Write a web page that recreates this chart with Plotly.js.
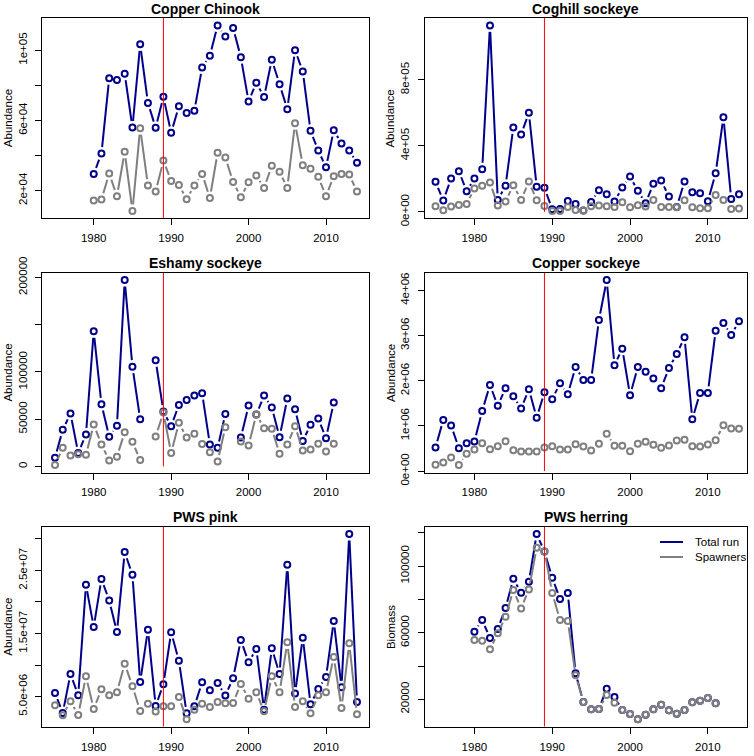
<!DOCTYPE html>
<html><head><meta charset="utf-8">
<script src="https://cdn.plot.ly/plotly-3.0.1.min.js"></script>
<style>html,body{margin:0;padding:0;background:#fff}</style>
</head><body><div id="chart" style="width:754px;height:756px"></div>
<script>
// ---------------- data ----------------
const years7514 = [1975,1976,1977,1978,1979,1980,1981,1982,1983,1984,1985,1986,1987,1988,1989,1990,1991,1992,1993,1994,1995,1996,1997,1998,1999,2000,2001,2002,2003,2004,2005,2006,2007,2008,2009,2010,2011,2012,2013,2014];
const years8014 = [1980,1981,1982,1983,1984,1985,1986,1987,1988,1989,1990,1991,1992,1993,1994,1995,1996,1997,1998,1999,2000,2001,2002,2003,2004,2005,2006,2007,2008,2009,2010,2011,2012,2013,2014];
const years7511 = [1975,1976,1977,1978,1979,1980,1981,1982,1983,1984,1985,1986,1987,1988,1989,1990,1991,1992,1993,1994,1995,1996,1997,1998,1999,2000,2001,2002,2003,2004,2005,2006,2007,2008,2009,2010,2011];
const years8011 = [1980,1981,1982,1983,1984,1985,1986,1987,1988,1989,1990,1991,1992,1993,1994,1995,1996,1997,1998,1999,2000,2001,2002,2003,2004,2005,2006,2007,2008,2009,2010,2011];

const chinookTotal = [29500,41100,84100,83000,86600,56000,103400,70000,55800,73500,52900,68100,64200,65500,90200,96900,114200,107900,112700,96100,70800,81500,73300,94600,80700,66400,100100,87900,54100,42800,33300,54400,46800,42800,35800];
const chinookSpawn = [14300,14900,29700,16800,42100,8400,55600,22900,19400,37100,25500,23200,15100,22900,29500,15800,41500,38800,24900,16200,24800,28600,21500,34100,30700,21500,58400,34500,32400,27800,16800,28200,29500,29100,19400];

const coghillTotal = [181800,68700,202000,246500,125300,202000,258600,1129300,72700,157600,511100,468700,600000,151500,145500,16200,18200,66700,48500,8100,60600,131300,107100,62600,147500,214100,127300,52500,169700,189900,92900,30300,183800,119200,113100,64600,234300,573700,78800,107100];
const coghillSpawn = [34300,10100,32300,42400,48500,141400,157600,177800,38400,62600,161600,72700,183800,70700,36400,6100,6100,30300,12100,8100,34300,38400,34300,30300,58600,28300,40400,32300,72700,30300,30300,28300,70700,28300,22200,22200,103000,72700,18200,20200];

const eshamyTotal = [9200,38700,56000,14100,33800,143000,65800,31300,43000,197200,105600,50000,null,112300,58100,42600,65100,70400,75000,77500,23200,19700,55600,null,30600,64400,54900,75000,62300,31000,71800,60600,26800,44000,50700,29900,67600];
const eshamySpawn = [1400,19700,11600,13000,12300,44400,23200,6300,10200,36300,26100,6700,null,31700,57000,14100,46100,30600,34500,23600,15100,5300,41500,null,26400,22200,54900,40500,39800,13400,23200,42600,16900,18000,23900,15800,23900];

const copperSockTotal = [523000,1134000,1009000,508000,619000,656000,1333000,1908000,1444000,1834000,1657000,1385000,1812000,1179000,1746000,1591000,1945000,1702000,2306000,2018000,2018000,3344000,4228000,2342000,2711000,1679000,2306000,2202000,2048000,1834000,2283000,2593000,2961000,1149000,1731000,1731000,3108000,3278000,3013000,3315000];
const copperSockSpawn = [140000,192000,302000,133000,383000,479000,619000,486000,552000,663000,464000,435000,435000,435000,523000,552000,479000,479000,597000,545000,457000,604000,825000,560000,560000,442000,604000,648000,582000,516000,567000,678000,692000,552000,545000,589000,685000,1017000,943000,935000];

const pinkTotal = [5580000,2410000,8590000,5210000,22730000,16030000,23630000,20250000,15240000,27900000,24310000,7320000,15610000,3520000,6950000,15190000,10700000,2360000,3470000,7270000,6000000,7160000,5160000,7900000,13970000,10440000,12550000,2940000,12650000,8590000,25900000,5480000,14340000,3790000,6210000,8110000,16980000,6480000,30750000,4160000];
const pinkSpawn = [3630000,2050000,4260000,2100000,8220000,3050000,6160000,5210000,5690000,10220000,6640000,2730000,3890000,2630000,3470000,3470000,4950000,1410000,2940000,3890000,3360000,4160000,3950000,4000000,7010000,4680000,5690000,2680000,8220000,5690000,13600000,3360000,4260000,2360000,5210000,5690000,11280000,3210000,13440000,2200000];

const herringTotal = [60600,67600,56800,62200,74800,92400,84000,90600,119200,108800,93000,80200,83800,35600,18400,14000,14200,26400,21400,13600,11200,8000,10800,14000,16800,13400,11400,13600,18200,19200,20800,17600];
const herringSpawn = [55600,55200,50000,59600,69600,85600,74600,86000,111000,108800,83800,67600,67000,34400,18400,14000,14200,22600,18000,13600,11200,8000,10800,14000,16800,13400,11400,13600,18200,19200,20800,17600];

const panelTitles = ["Copper Chinook","Coghill sockeye","Eshamy sockeye","Copper sockeye","PWS pink","PWS herring"];
const yLabels = ["Abundance","Abundance","Abundance","Abundance","Abundance","Biomass"];
const xTickVals = [1980,1990,2000,2010];
const yTickVals = [
  [20000,40000,60000,80000,100000],
  [0,400000,800000,1200000],
  [0,50000,100000,150000,200000],
  [0,1000000,2000000,3000000,4000000],
  [5000000,10000000,15000000,20000000,25000000,30000000],
  [20000,40000,60000,80000,100000,120000]
];
const yTickText = [
  ["2e+04","","6e+04","","1e+05"],
  ["0e+00","4e+05","8e+05",""],
  ["0","50000","100000","","200000"],
  ["0e+00","1e+06","2e+06","3e+06","4e+06"],
  ["5.0e+06","","1.5e+07","","2.5e+07",""],
  ["20000","","60000","","100000",""]
];
const legendNames = ["Total run","Spawners"];
const eventYear = 1989;

// ---------------- layout geometry ----------------
const W = 754, H = 756;
const colPx = [[42.3,369.3],[424.7,747]];
const rowPx = [[18,218.3],[272.7,472.5],[526.7,726.7]];
const colXRange = [[1973.36,2015.59],[1973.61,2015.03]];
const BLUE = "#00008B", GRAY = "#7F7F7F";
const FONT = "Liberation Sans, Arial, Helvetica, sans-serif";
const GAP = 6.5; // px gap between line ends and points (R type="b")

const panels = [
  {x: years8014, tot: chinookTotal, sp: chinookSpawn},
  {x: years7514, tot: coghillTotal, sp: coghillSpawn},
  {x: years7511, tot: eshamyTotal, sp: eshamySpawn},
  {x: years7514, tot: copperSockTotal, sp: copperSockSpawn},
  {x: years7514, tot: pinkTotal, sp: pinkSpawn},
  {x: years8011, tot: herringTotal, sp: herringSpawn}
];

function gapSegments(xs, ys, xr, yr, wpx, hpx, d) {
  const sx = wpx/(xr[1]-xr[0]), sy = hpx/(yr[1]-yr[0]);
  const X = [], Y = [];
  for (let i = 1; i < xs.length; i++) {
    const x0 = xs[i-1], y0 = ys[i-1], x1 = xs[i], y1 = ys[i];
    if (y0 == null || y1 == null) continue;
    const dx = (x1-x0)*sx, dy = (y1-y0)*sy, L = Math.hypot(dx, dy);
    const f = d / L;
    if (f >= 0.5) continue;
    X.push(x0 + f*(x1-x0), x1 - f*(x1-x0), null);
    Y.push(y0 + f*(y1-y0), y1 - f*(y1-y0), null);
  }
  return {X, Y};
}

const traces = [], shapes = [], annotations = [];
const layout = {
  width: W, height: H, autosize: false,
  margin: {l:0, r:0, t:0, b:0},
  paper_bgcolor: "#fff", plot_bgcolor: "#fff",
  font: {family: FONT, color: "#000", size: 11.5},
  showlegend: false
};

panels.forEach((p, i) => {
  const n = i + 1;
  const col = i % 2, row = Math.floor(i / 2);
  const [l, r] = colPx[col], [t, b] = rowPx[row];
  const xr = colXRange[col];
  const all = p.tot.concat(p.sp).filter(v => v != null);
  const mn = Math.min(...all), mx = Math.max(...all), ext = 0.04*(mx-mn);
  const yr = [mn - ext, mx + ext];
  const xa = "x" + n, ya = "y" + n;
  const series = [[p.tot, BLUE, legendNames[0]], [p.sp, GRAY, legendNames[1]]];
  series.forEach(([vals, color, name]) => {
    const seg = gapSegments(p.x, vals, xr, yr, r-l, b-t, GAP);
    traces.push({type:"scatter", mode:"lines", x: seg.X, y: seg.Y, xaxis: xa, yaxis: ya,
      line:{color, width:2}, name, hoverinfo:"skip", connectgaps:false});
    traces.push({type:"scatter", mode:"markers", x: p.x, y: vals, xaxis: xa, yaxis: ya, name,
      marker:{symbol:"circle-open", size:6, color, line:{width:2, color}}, cliponaxis:false});
  });
  const axCommon = {showline:true, mirror:true, linecolor:"#000", linewidth:1, ticks:"outside",
    ticklen:6, tickwidth:1, tickcolor:"#000", showgrid:false, zeroline:false, automargin:false,
    fixedrange:true, tickfont:{family:FONT, size:11.5, color:"#000"}};
  layout["xaxis" + (n===1?"":n)] = Object.assign({}, axCommon, {
    domain:[l/W, r/W], range: xr, anchor: ya, tickmode:"array", tickvals: xTickVals,
    ticktext: xTickVals.map(String), ticklabelstandoff: 3
  });
  layout["yaxis" + (n===1?"":n)] = Object.assign({}, axCommon, {
    domain:[1-b/H, 1-t/H], range: yr, anchor: xa, tickmode:"array", tickvals: yTickVals[i],
    ticktext: yTickText[i], tickangle: -90, ticklabelstandoff: 4
  });
  shapes.push({type:"line", xref: xa, yref: ya, x0: eventYear, x1: eventYear,
    y0: Math.max(0, yr[0]), y1: yr[1], line:{color:"#FF0000", width:1}, layer:"above"});
  annotations.push({xref:"paper", yref:"paper", x:(l+r)/2/W, y:1-(t-9.5)/H, xanchor:"center", yanchor:"middle",
    text:"<b>"+panelTitles[i]+"</b>", showarrow:false, font:{family:FONT, size:14, color:"#000"}});
  annotations.push({xref:"paper", yref:"paper", x:(l-34.3)/W, y:1-(t+b)/2/H, xanchor:"center", yanchor:"middle",
    text:yLabels[i], textangle:-90, showarrow:false, font:{family:FONT, size:11.5, color:"#000"}});
});

// legend for the herring panel (key swatches + labels)
const legendColors = [BLUE, GRAY];
const legendRowsPx = [542, 557];
legendNames.forEach((nm, k) => {
  shapes.push({type:"line", xref:"paper", yref:"paper", x0:660/W, x1:683/W,
    y0:1-legendRowsPx[k]/H, y1:1-legendRowsPx[k]/H, line:{color:legendColors[k], width:2}});
  annotations.push({xref:"paper", yref:"paper", x:693/W, y:1-legendRowsPx[k]/H, xanchor:"left", yanchor:"middle",
    text:nm, showarrow:false, font:{family:FONT, size:11.5, color:"#000"}});
});

layout.shapes = shapes;
layout.annotations = annotations;

Plotly.newPlot("chart", traces, layout, {displayModeBar:false, staticPlot:true});
</script>
</body></html>
